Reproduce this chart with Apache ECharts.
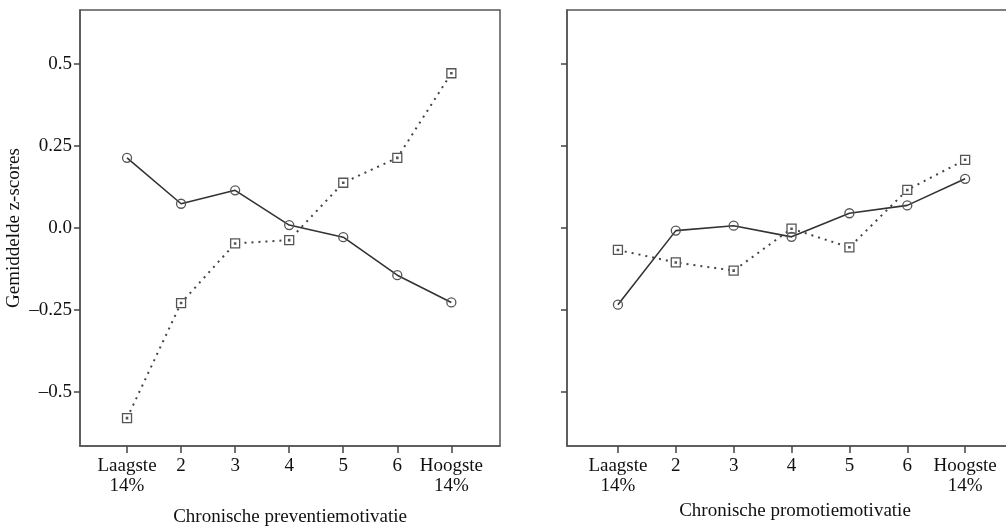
<!DOCTYPE html>
<html>
<head>
<meta charset="utf-8">
<script src="https://cdn.jsdelivr.net/npm/echarts@6/dist/echarts.min.js"></script>
<style>
html, body { margin: 0; padding: 0; background: #fff; }
#container { width: 1006px; height: 529px; }
</style>
</head>
<body>
<div id="container"></div>
<script>
// categorieen op de x-as (1..7)
let categories = ['Laagste\n14%', '2', '3', '4', '5', '6', 'Hoogste\n14%'];
let yTicks = [-0.5, -0.25, 0, 0.25, 0.5];
let yTickLabels = ['\u20130.5', '\u20130.25', '0.0', '0.25', '0.5'];

// linker paneel: preventiemotivatie
let prevSolid = [0.214, 0.074, 0.115, 0.009, -0.028, -0.144, -0.227];
let prevDotted = [-0.58, -0.229, -0.047, -0.037, 0.138, 0.214, 0.472];

// rechter paneel: promotiemotivatie
let promSolid = [-0.234, -0.008, 0.007, -0.027, 0.045, 0.069, 0.150];
let promDotted = [-0.067, -0.105, -0.130, -0.002, -0.059, 0.116, 0.208];

let dom = document.getElementById("container");
let myChart = echarts.init(dom);

let font = 'Liberation Serif';
let xPos = [1, 2, 3, 4, 5, 6, 7];

function pairs(arr) {
    return arr.map(function (v, i) { return [xPos[i], v]; });
}

function xAxisFor(idx, min, max, name, gap) {
    return {
        type: 'value',
        gridIndex: idx,
        min: min,
        max: max,
        position: 'bottom',
        name: name,
        nameLocation: 'middle',
        nameGap: gap,
        nameTextStyle: { fontFamily: font, fontSize: 19, color: '#111' },
        splitLine: { show: false },
        axisLine: { show: true, onZero: false, lineStyle: { color: '#555', width: 1.5 } },
        axisTick: { show: true, length: 7, customValues: xPos, lineStyle: { color: '#444', width: 1.5 } },
        axisLabel: {
            customValues: xPos,
            fontFamily: font,
            fontSize: 19,
            color: '#111',
            lineHeight: 20,
            margin: 10,
            formatter: function (v) { return categories[Math.round(v) - 1]; }
        }
    };
}

function yAxisFor(idx, showLabels) {
    return {
        type: 'value',
        gridIndex: idx,
        min: -0.665,
        max: 0.665,
        position: 'left',
        name: showLabels ? 'Gemiddelde z-scores' : '',
        nameLocation: 'middle',
        nameGap: 56,
        nameTextStyle: { fontFamily: font, fontSize: 19, color: '#111' },
        splitLine: { show: false },
        axisLine: { show: true, onZero: false, lineStyle: { color: '#555', width: 1.5 } },
        axisTick: { show: true, length: 6, customValues: yTicks, lineStyle: { color: '#444', width: 1.5 } },
        axisLabel: {
            show: showLabels,
            customValues: yTicks,
            fontFamily: font,
            fontSize: 19,
            color: '#111',
            margin: 8,
            formatter: function (v) {
                let i = yTicks.findIndex(function (t) { return Math.abs(t - v) < 1e-6; });
                return i >= 0 ? yTickLabels[i] : '';
            }
        }
    };
}

function solidSeries(idx, data) {
    return {
        type: 'line',
        xAxisIndex: idx,
        yAxisIndex: idx,
        data: pairs(data),
        symbol: 'circle',
        symbolSize: 9,
        lineStyle: { color: '#333', width: 1.6, type: 'solid' },
        itemStyle: { color: 'rgba(255,255,255,0)', borderColor: '#555', borderWidth: 1.3 },
        z: 3
    };
}

function dottedSeries(idx, data) {
    return {
        type: 'line',
        xAxisIndex: idx,
        yAxisIndex: idx,
        data: pairs(data),
        symbol: 'path://M0,0H10V10H0Z M4.3,4.3H5.7V5.7H4.3Z',
        symbolSize: 9,
        lineStyle: { color: '#444', width: 2, type: [2, 5] },
        itemStyle: { color: '#fff', borderColor: '#555', borderWidth: 1.3 },
        z: 2
    };
}

let option = {
    backgroundColor: '#fff',
    animation: false,
    grid: [
        { left: 80, top: 10, width: 420, height: 436, outerBoundsMode: 'none', containLabel: false, show: true, borderColor: '#555', borderWidth: 1.5, backgroundColor: 'transparent' },
        { left: 567, top: 10, width: 456, height: 436, outerBoundsMode: 'none', containLabel: false, show: true, borderColor: '#555', borderWidth: 1.5, backgroundColor: 'transparent' }
    ],
    xAxis: [
        xAxisFor(0, 0.13, 7.9, 'Chronische preventiemotivatie', 62),
        xAxisFor(1, 0.12, 8.0, 'Chronische promotiemotivatie', 56)
    ],
    yAxis: [
        yAxisFor(0, true),
        yAxisFor(1, false)
    ],
    series: [
        solidSeries(0, prevSolid),
        dottedSeries(0, prevDotted),
        solidSeries(1, promSolid),
        dottedSeries(1, promDotted)
    ]
};

myChart.setOption(option);
</script>
</body>
</html>
